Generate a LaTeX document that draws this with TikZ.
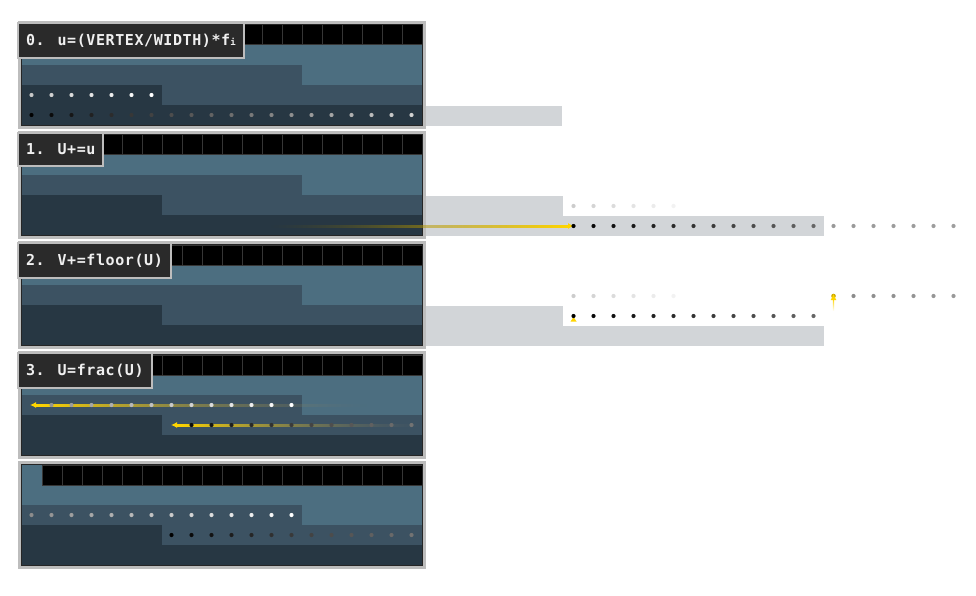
\documentclass[tikz,border=0pt]{standalone}
\usepackage{fontspec}
\newfontfamily\labelfont{DejaVu Sans Mono}[LetterSpace=4]
\usetikzlibrary{fadings,arrows.meta}

\definecolor{rowlight}{HTML}{4C6E80}
\definecolor{rowmid}{HTML}{3C5262}
\definecolor{rowdark}{HTML}{273743}
\definecolor{frameout}{HTML}{BDBDBD}
\definecolor{stripgrey}{HTML}{D2D5D8}
\definecolor{labelbg}{HTML}{2A2A2A}
\definecolor{labeltext}{HTML}{F0F0F0}
\definecolor{cellline}{HTML}{363636}
\definecolor{markyellow}{HTML}{FFD500}

\tikzfading[name=fadeinright, left color=transparent!100, middle color=transparent!75, right color=transparent!0]
\tikzfading[name=fadeinleft, left color=transparent!0, middle color=transparent!75, right color=transparent!100]

\tikzset{
  steplabel/.style={fill=labelbg, draw=frameout, line width=2, text=labeltext,
    font=\labelfont\bfseries\fontsize{15}{15}\selectfont,
    inner xsep=8, inner ysep=11, outer sep=0, anchor=north west},
  arrowtip/.style={markyellow, line width=1.6, -{Latex[length=6,width=6]}},
  panelline/.style={draw=black!85, line width=1}
}

% one panel: #1 = top of the cells, #2 = first black cell
\newcommand{\panelbase}[2]{%
  \fill[frameout] (18,#1-4) rectangle (426,#1+104);
  \fill[rowlight] (22,#1) rectangle (422,#1+100);
  \fill[rowmid] (22,#1+40) rectangle (302,#1+60);
  \fill[rowmid] (162,#1+60) rectangle (422,#1+80);
  \fill[rowdark] (22,#1+60) rectangle (162,#1+80);
  \fill[rowdark] (22,#1+80) rectangle (422,#1+100);
  \foreach \k in {#2,...,19}
    \draw[cellline, fill=black, line width=1] ({22+20*\k},#1) rectangle ++(20,20);
  \draw[panelline] (21.5,#1-0.5) rectangle (422.5,#1+100.5);
}

% a row of dots: x, y, count, first and last shade (percent white)
\newcommand{\dotrow}[5]{%
  \foreach \k in {1,...,#3}{%
    \pgfmathsetmacro\dotshade{#4+(#5-#4)*(\k-1)/max(#3-1,1)}
    \fill[white!\dotshade!black] ({#1+20*(\k-1)},#2) circle (2.1);
  }}

\begin{document}
\begin{tikzpicture}[x=1pt,y=-1pt]
\useasboundingbox[fill=white] (0,0) rectangle (976,596);

\panelbase{25}{0}
\panelbase{135}{0}
\panelbase{245}{0}
\panelbase{355}{0}
\panelbase{465}{1}

% grey strips right of the panels
\fill[stripgrey] (426,106) rectangle (562,126);
\fill[stripgrey] (426,196) rectangle (563,216);
\fill[stripgrey] (426,216) rectangle (824,236);
\fill[stripgrey] (426,306) rectangle (563,326);
\fill[stripgrey] (426,326) rectangle (824,346);

% step 1
\coordinate (shiftfrom) at (270,226);
\coordinate (shiftto) at (574,226);
\shade[left color=black!60!markyellow, right color=markyellow, path fading=fadeinright] ([yshift=-1]shiftfrom) rectangle ([xshift=-6,yshift=1]shiftto);
\draw[arrowtip] ([xshift=-7]shiftto) -- (shiftto);

% step 2
\coordinate (floorfrom) at (833.5,312);
\coordinate (floorto) at (833.5,294);
\shade[top color=markyellow, bottom color=white] (832.8,299) rectangle (834.2,311);
\fill[markyellow] (573.5,317) -- (570.5,321.5) -- (576.5,321.5) -- cycle;

% step 3
\coordinate (fracfromA) at (367,405);
\coordinate (fractoA) at (30,405);
\shade[left color=markyellow, right color=black!55, path fading=fadeinleft] ([xshift=6,yshift=-1]fractoA) rectangle ([yshift=1]fracfromA);
\draw[arrowtip] ([xshift=7]fractoA) -- (fractoA);
\coordinate (fracfromB) at (422,425);
\coordinate (fractoB) at (171,425);
\shade[left color=markyellow, right color=black!55, path fading=fadeinleft] ([xshift=6,yshift=-1]fractoB) rectangle ([yshift=1]fracfromB);
\draw[arrowtip] ([xshift=7]fractoB) -- (fractoB);

% dots
\dotrow{31.5}{95}{7}{78}{100}
\dotrow{31.5}{115}{20}{0}{82}
\dotrow{573.5}{206}{6}{80}{95}
\dotrow{573.5}{226}{13}{0}{40}
\dotrow{833.5}{226}{7}{60}{62}
\dotrow{573.5}{296}{6}{80}{95}
\dotrow{853.5}{296}{6}{55}{60}
\dotrow{573.5}{316}{13}{0}{40}
\dotrow{51.5}{405}{13}{58}{100}
\dotrow{191.5}{425}{12}{5}{45}
\dotrow{31.5}{515}{14}{55}{100}
\dotrow{171.5}{535}{13}{0}{45}
\fill[markyellow!80!black] (833.5,296) circle (2.3);
\draw[arrowtip, line width=1] ([yshift=-5]floorto) -- (floorto);

% labels
\node[steplabel] (step0) at (18,23) {0. u=(VERTEX/WIDTH)*f{\fontsize{9}{9}\selectfont i}};
\node[steplabel] (step1) at (18,133) {1. U+=u};
\node[steplabel] (step2) at (18,243) {2. V+=floor(U)};
\node[steplabel] (step3) at (18,353) {3. U=frac(U)};
\end{tikzpicture}
\end{document}
